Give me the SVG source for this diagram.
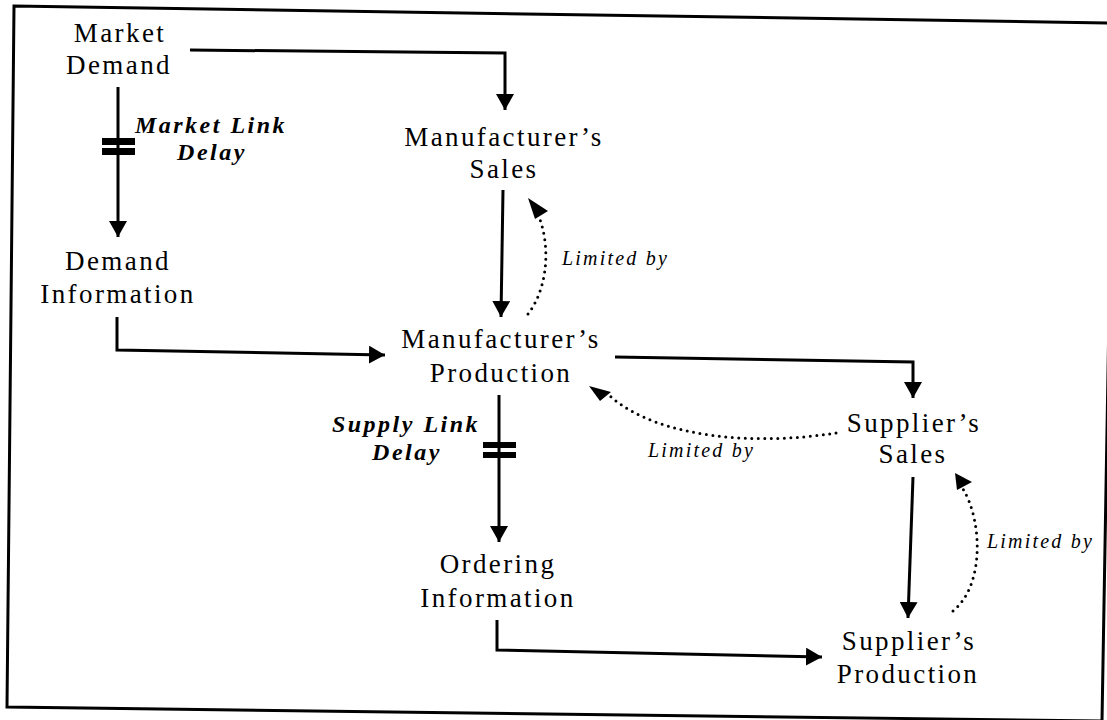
<svg xmlns="http://www.w3.org/2000/svg" width="1107" height="720" viewBox="0 0 1107 720">
<style>
.node{font-family:"Liberation Serif","Times New Roman",serif;font-size:27px;letter-spacing:2.4px;fill:#000;text-anchor:middle}
.delay{font-family:"Liberation Serif","Times New Roman",serif;font-size:24px;font-weight:bold;font-style:italic;letter-spacing:2.5px;fill:#000;text-anchor:middle}
.lim{font-family:"Liberation Serif","Times New Roman",serif;font-size:20px;font-style:italic;letter-spacing:2.2px;fill:#000}
.solid{fill:none;stroke:#000;stroke-width:3}
.dot{fill:none;stroke:#000;stroke-width:3;stroke-dasharray:0 6.5;stroke-linecap:round}
.bar{fill:#000}
.head{fill:#000}
</style>
<defs>
<marker id="ah" viewBox="0 0 16 18" refX="16" refY="9" markerWidth="16" markerHeight="18" markerUnits="userSpaceOnUse" orient="auto">
<path d="M0,0 L16,9 L0,18 z" fill="#000"/>
</marker>
</defs>
<rect width="1107" height="720" fill="#fff"/>
<polygon points="14,6 1114,23 1102,721 7,707" fill="none" stroke="#000" stroke-width="3"/>

<g id="connectors">
<polyline class="solid" points="190,50 505,53 505,110" marker-end="url(#ah)"/>
<line class="solid" x1="118" y1="87" x2="118" y2="237" marker-end="url(#ah)"/>
<rect class="bar" x="102" y="138" width="33" height="7"/>
<rect class="bar" x="102" y="148" width="33" height="7"/>
<line class="solid" x1="503" y1="190" x2="501" y2="317" marker-end="url(#ah)"/>
<path class="dot" d="M528,314 C550,285 550,240 537,212"/>
<polygon class="head" points="528,198 548,211 535,219"/>
<polyline class="solid" points="117,317 117,350 385,355" marker-end="url(#ah)"/>
<polyline class="solid" points="615,357 913,362 913,398" marker-end="url(#ah)"/>
<path class="dot" d="M836,433 C760,445 660,440 610,396"/>
<polygon class="head" points="589,386 611,392 600,401"/>
<line class="solid" x1="499" y1="395" x2="499" y2="542" marker-end="url(#ah)"/>
<rect class="bar" x="483" y="442" width="33" height="6"/>
<rect class="bar" x="483" y="452" width="33" height="6"/>
<polyline class="solid" points="497,620 497,650 822,657" marker-end="url(#ah)"/>
<line class="solid" x1="913" y1="477" x2="908" y2="618" marker-end="url(#ah)"/>
<path class="dot" d="M953,611 C985,585 982,520 963,489"/>
<polygon class="head" points="955,473 972,482 957,490"/>
</g>

<g id="market-demand"><text class="node" x="120" y="42">Market</text><text class="node" x="119" y="74">Demand</text></g>
<g id="manufacturers-sales"><text class="node" x="504" y="146">Manufacturer’s</text><text class="node" x="504" y="178">Sales</text></g>
<g id="demand-information"><text class="node" x="118" y="270">Demand</text><text class="node" x="118" y="303">Information</text></g>
<g id="manufacturers-production"><text class="node" x="501" y="348">Manufacturer’s</text><text class="node" x="501" y="382">Production</text></g>
<g id="suppliers-sales"><text class="node" x="914" y="432">Supplier’s</text><text class="node" x="913" y="463">Sales</text></g>
<g id="ordering-information"><text class="node" x="498" y="573">Ordering</text><text class="node" x="498" y="607">Information</text></g>
<g id="suppliers-production"><text class="node" x="909" y="650">Supplier’s</text><text class="node" x="908" y="683">Production</text></g>

<g id="labels">
<text class="delay" x="211" y="133">Market Link</text>
<text class="delay" x="212" y="160">Delay</text>
<text class="delay" x="406" y="432">Supply Link</text>
<text class="delay" x="407" y="460">Delay</text>
<text class="lim" x="562" y="265">Limited by</text>
<text class="lim" x="648" y="457">Limited by</text>
<text class="lim" x="987" y="548">Limited by</text>
</g>
</svg>
